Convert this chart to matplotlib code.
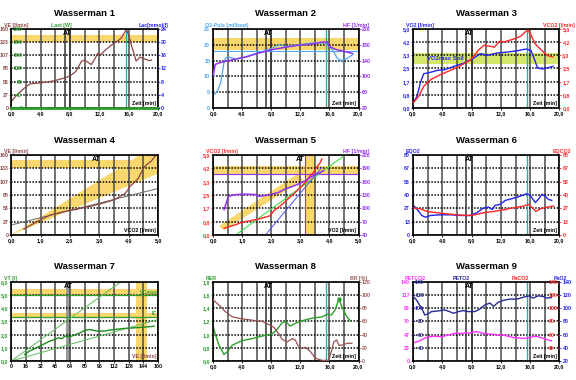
import matplotlib
matplotlib.use("Agg")
import matplotlib.pyplot as plt

plt.rcParams['font.family'] = ['Liberation Sans', 'DejaVu Sans']
plt.rcParams['font.weight'] = 'bold'

# ---- Daten ----
# Wasserman 1: VE ueber Zeit, Last
w1_t = [0, 0.5, 1.3, 2.0, 2.6, 3.3, 4.0, 4.7, 5.4, 6.1, 6.8, 7.5, 8.1, 8.8, 9.2, 9.6, 10.0,
        10.5, 10.9, 11.4, 11.8, 12.2, 12.7, 13.2, 13.7, 14.1, 14.6, 15.0, 15.4, 15.7, 16.1,
        16.4, 16.7, 17.0, 17.3, 17.5, 17.9, 18.4, 18.8, 19.1]
w1_ve = [13, 22, 34, 43, 49, 50, 51, 52, 54, 56, 59, 62, 66, 74, 85, 95, 97,
         92, 88, 100, 111, 108, 116, 122, 128, 132, 137, 142, 152, 159, 142,
         125, 111, 95, 100, 103, 101, 98, 96, 97]
w1_last_t = [0, 20]
w1_last = [0, 0]

# Wasserman 2: O2-Puls, HF
w2_t = [0, 0.3, 0.6, 1.05, 1.5, 1.7, 2.2, 3.1, 4.0, 5.4, 6.8, 8.2, 9.1, 10.0, 11.8, 13.7,
        15.0, 15.6, 16.0, 16.4, 16.7, 17.0, 17.3, 17.8, 18.5, 19.2]
w2_o2p = [4.2, 4.5, 5.3, 7.9, 14.2, 15.8, 16.1, 15.5, 15.8, 16.9, 17.9, 19.0, 20.0, 19.5,
          20.0, 20.6, 20.6, 20.3, 19.5, 18.5, 17.4, 16.0, 15.3, 15.1, 15.8, 16.9]
w2_hf_t = [0, 0.3, 0.8, 1.7, 3.1, 4.5, 6.3, 8.2, 10.0, 11.8, 13.7, 15.0, 15.7, 16.0, 16.9,
           18.3, 19.2]
w2_hf = [100, 130, 134, 138, 144, 149, 159, 168, 174, 179, 182, 187, 187, 176, 168, 162, 158]

# Wasserman 3: VO2, VCO2
w3_vo2_t = [0, 0.55, 1.0, 1.46, 2.4, 3.3, 4.4, 5.6, 7.0, 8.1, 9.2, 10.2, 11.5, 12.9, 14.3,
            15.4, 16.1, 16.6, 17.0, 17.7, 18.6, 19.1]
w3_vo2 = [0.32, 0.74, 1.58, 2.17, 2.26, 2.38, 2.43, 2.64, 2.85, 3.1, 3.44, 3.33, 3.48, 3.54,
          3.63, 3.73, 3.65, 3.06, 2.53, 2.47, 2.57, 2.64]
w3_vco2_t = [0, 0.78, 1.46, 2.4, 3.75, 5.1, 6.5, 7.9, 9.0, 9.7, 10.6, 11.1, 11.8, 12.4, 13.8,
             14.7, 15.4, 15.7, 16.1, 16.6, 17.0, 17.7, 18.4, 19.1]
w3_vco2 = [0.32, 0.74, 1.37, 1.79, 2.11, 2.38, 2.68, 3.06, 3.69, 3.97, 3.9, 3.84, 4.22, 4.18,
           4.37, 4.54, 4.85, 4.92, 4.64, 4.11, 3.9, 3.59, 3.31, 3.23]

# Wasserman 4: VE ueber VCO2
w4_vco2 = [0.43, 0.77, 1.05, 1.33, 1.6, 1.9, 2.2, 2.46, 2.75, 3.02, 3.25, 3.48, 3.7, 3.85,
           3.93, 4.04, 4.15, 4.32, 4.42, 4.49, 4.6, 4.77, 4.89, 4.94]
w4_ve = [12, 23, 32, 40, 44, 48, 51, 55, 58, 62, 66, 70, 77, 82, 87, 97, 103, 113, 124, 133,
         140, 148, 157, 160]
w4_fit_vco2 = [0, 5]
w4_fit_ve = [20, 93]
w4_cone_lo = 24.6
w4_cone_hi = 36.5

# Wasserman 5: VCO2 und HF ueber VO2
w5_vo2 = [0.38, 0.7, 1.0, 1.3, 1.58, 1.97, 2.09, 2.32, 2.6, 2.83, 3.06, 3.23, 3.34, 3.45,
          3.52, 3.69, 3.74]
w5_vco2 = [0.42, 0.6, 0.79, 0.9, 1.0, 1.21, 1.52, 1.83, 2.29, 2.67, 3.08, 3.4, 3.71, 3.9,
           4.13, 4.54, 4.75]
w5_hf_vo2 = [0.38, 0.53, 0.78, 1.12, 1.46, 1.58, 1.92, 2.26, 2.49, 2.72, 2.95, 3.17, 3.4,
             3.69, 3.8]
w5_hf = [97, 127, 131, 132, 131, 127, 130, 136, 144, 149, 155, 162, 172, 181, 185]
w5_green_vo2 = [0.78, 4.54]
w5_green_vco2 = [0.0, 5.0]
w5_blue_vo2 = [1.8, 3.74]
w5_blue_vco2 = [0.0, 4.23]

# Wasserman 6: EQO2, EQCO2
w6_o2_t = [0, 0.3, 0.8, 1.2, 1.7, 2.4, 3.7, 5.1, 6.5, 7.8, 8.7, 9.6, 10.3, 10.8, 11.2, 11.9,
           12.6, 13.5, 14.6, 15.5, 16.0, 16.7, 17.1, 17.6, 18.0, 18.5, 18.95]
w6_eqo2 = [29.6, 27.9, 23.5, 19.5, 17.8, 19.5, 20.2, 20.2, 19.5, 19.5, 22.2, 26.9, 27.9,
           25.5, 29.6, 30.6, 34.6, 36.3, 38.7, 41.3, 39.7, 32.3, 35.6, 40.7, 39.0, 35.6, 34.6]
w6_co2_t = [0, 1.0, 1.9, 3.3, 4.6, 6.0, 7.4, 8.5, 9.6, 11.0, 12.4, 13.7, 15.1, 15.8, 16.2,
            16.8, 17.4, 18.3, 19.2]
w6_eqco2 = [26.9, 26.2, 23.5, 22.2, 21.2, 20.2, 19.5, 20.2, 22.2, 23.5, 25.2, 27.2, 28.9,
            30.6, 27.9, 23.5, 26.2, 27.9, 28.9]

# Wasserman 7: VT ueber VE
w7_ve = [14.6, 20, 27.5, 34.8, 42, 47.6, 51.3, 55, 58.6, 64, 67.7, 75, 80.5, 86, 93.4,
         100.7, 111.7, 122.7, 133.7, 144.7, 155.7]
w7_vt = [0.5, 0.76, 1.0, 1.26, 1.51, 1.64, 1.76, 1.69, 1.89, 1.84, 1.94, 2.14, 2.34, 2.39,
         2.27, 2.27, 2.39, 2.47, 2.52, 2.57, 2.64]
w7_line1_ve = [0, 119]
w7_line1_vt = [0, 6.0]
w7_line2_ve = [0, 160]
w7_line2_vt = [0, 3.15]

# Wasserman 8: RER, BR
w8_t = [0, 0.37, 0.82, 1.5, 1.96, 2.65, 4.0, 5.4, 6.8, 8.1, 8.8, 9.5, 10.0, 10.6, 11.3,
        12.2, 13.6, 15.0, 15.7, 16.3, 16.8, 17.3, 17.7, 18.4, 18.9]
w8_rer = [1.13, 0.99, 0.84, 0.70, 0.74, 0.84, 0.91, 0.94, 0.98, 1.01, 1.08, 1.18, 1.2, 1.13,
          1.17, 1.21, 1.25, 1.27, 1.31, 1.3, 1.38, 1.54, 1.43, 1.27, 1.21]
w8_br_t = [0, 0.82, 1.7, 2.65, 4.0, 5.4, 6.8, 7.7, 8.4, 9.0, 9.5, 10.2, 10.9, 11.3, 11.8,
           12.2, 12.7, 13.4, 14.1, 15.0, 15.9, 16.3, 16.6, 17.0, 17.3, 17.7, 18.2, 18.6, 19.1]
w8_br = [93, 85, 75, 67, 64, 62, 60, 55, 51, 42, 33, 29, 34, 32, 21, 19, 21, 14, 4, 1, 1,
         16, 29, 32, 24, 24, 26, 27, 27]

# Wasserman 9: PETCO2, PETO2
w9_o2_t = [0, 0.46, 0.9, 1.3, 1.6, 2.05, 2.5, 3.4, 4.3, 5.0, 5.5, 6.2, 6.85, 7.5, 8.4, 9.1,
           9.8, 10.5, 11.0, 11.6, 12.3, 13.2, 14.2, 15.1, 15.8, 16.4, 17.1, 17.8, 18.3, 18.9]
w9_peto2 = [118, 113, 105, 97.6, 90, 91.5, 95, 96, 97.6, 95, 92.5, 95, 96.6, 95, 95, 98.6,
            105, 108, 103, 109, 112, 114, 114, 117, 119, 115.5, 119, 118, 115.5, 116.5]
w9_co2_t = [0, 0.9, 1.8, 2.7, 3.9, 4.8, 5.7, 6.8, 7.8, 8.7, 9.6, 11.0, 12.3, 13.7, 15.1,
            16.0, 16.7, 17.4, 18.3, 18.9]
w9_petco2 = [32, 35.7, 41.7, 44, 43, 46, 49, 49, 50, 52, 49, 47, 46, 41.7, 40, 41.7, 44,
             41.7, 38, 35.7]

at_lines = [7.3, 8.0]
t_max = 15.6

# ---- Farben ----
YEL = '#F9D76C'
TEAL = '#3AA6A0'
BROWN = '#8E4444'
GREEN = '#2E9B2E'
BLUE = '#2424F0'
LBLUE = '#4DA6EE'
PURPLE = '#9430F0'
RED = '#FF2626'
MAG = '#FF30FF'
NAVY = '#2A2A96'

fig = plt.figure(figsize=(5.76, 3.80), dpi=100)
cols = [(0.0195, 0.255), (0.3698, 0.2526), (0.717, 0.2543)]
rows = [(0.7158, 0.2079), (0.3816, 0.2105), (0.05, 0.2079)]

t_ticks = [0, 4, 8, 12, 16, 20]
t_labels = ['0,0', '4,0', '8,0', '12,0', '16,0', '20,0']
t_grid = list(range(0, 21, 2))
v_ticks = [0, 1, 2, 3, 4, 5]
v_labels = ['0,0', '1,0', '2,0', '3,0', '4,0', '5,0']
v_grid = [i * 0.5 for i in range(11)]
fs = 3.8


def make_ax(r, c, title):
    ax = fig.add_axes([cols[c][0], rows[r][0], cols[c][1], rows[r][1]])
    ax.set_title(title, fontsize=6.8, fontweight='bold', pad=9)
    for sp in ax.spines.values():
        sp.set_linewidth(1.2)
    return ax


def style(ax, xlim, xt, xtl, xgrid, ylim, yt, ytl, ycol):
    ax.set_xlim(*xlim)
    ax.set_ylim(*ylim)
    ax.set_xticks(xt, xtl)
    ax.set_xticks(xgrid, minor=True)
    ax.set_yticks(yt, ytl)
    ax.tick_params(axis='both', which='both', length=1.5, width=0.6, labelsize=fs, pad=0.6)
    ax.tick_params(axis='x', which='minor', length=0)
    ax.tick_params(axis='y', colors=ycol)
    ax.set_axisbelow(True)
    ax.grid(axis='x', which='both', color='#4a4a4a', lw=1.1)
    ax.grid(axis='y', which='major', color='black', ls=(0, (1, 1)), lw=1.1)


def twin(ax, ylim, yt, ytl, col, side='right', inner=False):
    a = ax.twinx()
    a.set_ylim(*ylim)
    a.set_yticks(yt, ytl)
    if side == 'left':
        a.yaxis.tick_left()
    a.tick_params(axis='y', labelsize=fs, colors=col, width=0.6,
                  length=1.5, pad=-8 if inner else 0.6, direction='in' if inner else 'out')
    for sp in a.spines.values():
        sp.set_visible(False)
    return a


def top_label(ax, x, s, col, ha):
    ax.text(x, 1.015, s, transform=ax.transAxes, fontsize=fs, color=col, ha=ha, va='bottom')


def corner_label(ax, s, col='black'):
    ax.text(0.985, 0.02, s, transform=ax.transAxes, fontsize=fs, color=col, ha='right', va='bottom')


def at_mark(ax, x, lines=True):
    if lines:
        for xv in at_lines:
            ax.axvline(xv, color='#333333', lw=1.1, zorder=0.6)
    ax.text(x, 0.99, 'AT', transform=ax.get_xaxis_transform(), fontsize=5, ha='center', va='top')


def time_panel(ax, ylim, yt, ytl, ycol):
    style(ax, (0, 20), t_ticks, t_labels, t_grid, ylim, yt, ytl, ycol)
    at_mark(ax, sum(at_lines) / 2)
    ax.axvline(t_max, color=TEAL, lw=1.0, zorder=0.7)
    corner_label(ax, 'Zeit [min]')


# ---- Wasserman 1 ----
ax = make_ax(0, 0, 'Wasserman 1')
time_panel(ax, (0, 160), [0, 26.67, 53.33, 80, 106.67, 133.33, 160],
           ['0', '27', '53', '80', '107', '133', '160'], BROWN)
ax.axhspan(134, 148, color=YEL, zorder=0.3, lw=0)
ax.plot(w1_t, w1_ve, color=BROWN, lw=0.9)
a_last = twin(ax, (0, 240), [0, 40, 80, 120, 160, 200, 240],
              ['0', '40', '80', '120', '160', '200', '240'], GREEN, side='left', inner=True)
a_last.plot(w1_last_t, w1_last, color=GREEN, lw=2.0, clip_on=False)
twin(ax, (0, 24), [0, 4, 8, 12, 16, 20, 24], ['0', '4', '8', '12', '16', '20', '24'], BLUE)
top_label(ax, -0.05, 'VE [l/min]', BROWN, 'left')
top_label(ax, 0.34, 'Last [W]', GREEN, 'center')
top_label(ax, 1.07, 'Lac[mmol/l]', BLUE, 'right')

# ---- Wasserman 2 ----
ax = make_ax(0, 1, 'Wasserman 2')
time_panel(ax, (0, 25), [0, 5, 10, 15, 20, 25], ['0', '5', '10', '15', '20', '25'], LBLUE)
ax.axhspan(18.2, 22.2, color=YEL, zorder=0.3, lw=0)
ax.axhline(17.9, color=LBLUE, lw=0.8, zorder=0.6)
ax.plot(w2_t, w2_o2p, color=LBLUE, lw=0.9)
a_hf = twin(ax, (20, 220), [20, 60, 100, 140, 180, 220],
            ['20', '60', '100', '140', '180', '220'], PURPLE)
a_hf.plot(w2_hf_t, w2_hf, color=PURPLE, lw=1.1)
top_label(ax, -0.055, 'O2-Puls [ml/beat]', LBLUE, 'left')
top_label(ax, 1.07, 'HF [1/min]', PURPLE, 'right')

# ---- Wasserman 3 ----
ax = make_ax(0, 2, 'Wasserman 3')
v6 = [0, 0.833, 1.667, 2.5, 3.333, 4.167, 5.0]
v6l = ['0,0', '0,8', '1,7', '2,5', '3,3', '4,2', '5,0']
time_panel(ax, (0, 5), v6, v6l, BLUE)
ax.axhspan(2.8, 3.45, color='#D5E66C', zorder=0.3, lw=0)
ax.text(1.9, 3.12, 'VO2max Soll', fontsize=4.3, color=BLUE, va='center')
ax.plot(w3_vo2_t, w3_vo2, color=BLUE, lw=1.0)
a_co2 = twin(ax, (0, 5), v6, v6l, RED)
a_co2.plot(w3_vco2_t, w3_vco2, color=RED, lw=1.0)
top_label(ax, -0.05, 'VO2 [l/min]', BLUE, 'left')
top_label(ax, 1.105, 'VCO2 [l/min]', RED, 'right')

# ---- Wasserman 4 ----
ax = make_ax(1, 0, 'Wasserman 4')
style(ax, (0, 5), v_ticks, v_labels, v_grid, (0, 160),
      [0, 26.67, 53.33, 80, 106.67, 133.33, 160],
      ['0', '27', '53', '80', '107', '133', '160'], BROWN)
ax.axhspan(135, 150, xmin=0, xmax=0.84, color=YEL, zorder=0.3, lw=0)
ax.fill([0, 5, 5, 160 / w4_cone_hi], [0, 5 * w4_cone_lo, 160, 160], color=YEL, zorder=0.3, lw=0)
ax.plot(w4_fit_vco2, w4_fit_ve, color='#666666', lw=0.7)
ax.plot(w4_vco2, w4_ve, color=BROWN, lw=0.9)
at_mark(ax, 2.9, lines=False)
corner_label(ax, 'VCO2 [l/min]')
top_label(ax, -0.05, 'VE [l/min]', BROWN, 'left')

# ---- Wasserman 5 ----
ax = make_ax(1, 1, 'Wasserman 5')
style(ax, (0, 5), v_ticks, v_labels, v_grid, (0, 5), v6, v6l, RED)
ax.axhspan(3.81, 4.29, color=YEL, zorder=0.3, lw=0)
ax.axvspan(3.17, 3.52, color=YEL, zorder=0.3, lw=0)
ax.fill([0.2, 0.38, 3.1, 2.92], [0.55, 0.3, 3.45, 3.85], color=YEL, zorder=0.3, lw=0)
ax.axvline(3.17, color=PURPLE, lw=0.8, zorder=0.6)
ax.axhline(3.81, color=PURPLE, lw=0.8, zorder=0.6)
ax.plot(w5_green_vo2, w5_green_vco2, color='#44DD44', lw=0.8)
ax.plot(w5_blue_vo2, w5_blue_vco2, color='#5555FF', lw=0.7)
ax.plot(w5_vo2, w5_vco2, color=RED, lw=1.0)
a_hf5 = twin(ax, (40, 220), [40, 70, 100, 130, 160, 190, 220],
             ['40', '70', '100', '130', '160', '190', '220'], PURPLE)
a_hf5.plot(w5_hf_vo2, w5_hf, color=PURPLE, lw=1.1)
at_mark(ax, 3.0, lines=False)
corner_label(ax, 'VO2 [l/min]')
top_label(ax, -0.05, 'VCO2 [l/min]', RED, 'left')
top_label(ax, 1.07, 'HF [1/min]', PURPLE, 'right')

# ---- Wasserman 6 ----
ax = make_ax(1, 2, 'Wasserman 6')
e6 = [0, 13.33, 26.67, 40, 53.33, 66.67, 80]
e6l = ['0', '13', '27', '40', '53', '67', '80']
time_panel(ax, (0, 80), e6, e6l, BLUE)
ax.plot(w6_o2_t, w6_eqo2, color=BLUE, lw=1.0)
a_eq = twin(ax, (0, 80), e6, e6l, RED)
a_eq.plot(w6_co2_t, w6_eqco2, color=RED, lw=1.0)
top_label(ax, -0.05, 'EQO2', BLUE, 'left')
top_label(ax, 1.08, 'EQCO2', RED, 'right')

# ---- Wasserman 7 ----
ax = make_ax(2, 0, 'Wasserman 7')
ve7 = list(range(0, 161, 16))
style(ax, (0, 160), ve7, [str(v) for v in ve7], ve7, (0, 6),
      [0, 1, 2, 3, 4, 5, 6], ['0,0', '1,0', '2,0', '3,0', '4,0', '5,0', '6,0'], GREEN)
ax.axhspan(4.99, 5.47, color=YEL, zorder=0.3, lw=0)
ax.axhspan(3.35, 3.65, color=YEL, zorder=0.3, lw=0)
ax.axvspan(135.5, 148, color=YEL, zorder=0.3, lw=0)
ax.axvspan(60, 64, color='#999999', zorder=0.4, lw=0)
ax.axhline(4.99, color=GREEN, lw=0.9, zorder=0.6)
ax.axhline(3.35, color=GREEN, lw=0.9, zorder=0.6)
ax.plot(w7_line1_ve, w7_line1_vt, color='#5DBB5D', lw=0.7)
ax.plot(w7_line2_ve, w7_line2_vt, color='#5DBB5D', lw=0.7)
ax.plot(w7_ve, w7_vt, color='#1E8C1E', lw=1.0)
ax.text(0.995, 5.05, 'VCmax', transform=ax.get_yaxis_transform(), fontsize=fs,
        color=GREEN, ha='right', va='bottom')
ax.text(0.995, 3.4, 'IC', transform=ax.get_yaxis_transform(), fontsize=fs,
        color=GREEN, ha='right', va='bottom')
at_mark(ax, 62, lines=False)
corner_label(ax, 'VE [l/min]', BROWN)
top_label(ax, -0.05, 'VT [l]', GREEN, 'left')

# ---- Wasserman 8 ----
ax = make_ax(2, 1, 'Wasserman 8')
time_panel(ax, (0.6, 1.8), [0.6, 0.8, 1.0, 1.2, 1.4, 1.6, 1.8],
           ['0,6', '0,8', '1,0', '1,2', '1,4', '1,6', '1,8'], GREEN)
ax.plot(w8_t, w8_rer, color='#2AA02A', lw=1.0)
ax.plot(w8_t[21], w8_rer[21], 'o', color='#2AA02A', ms=2.2)
a_br = twin(ax, (0, 120), [0, 20, 40, 60, 80, 100, 120],
            ['0', '20', '40', '60', '80', '100', '120'], '#A05A5A')
a_br.plot(w8_br_t, w8_br, color='#9A5050', lw=0.9)
top_label(ax, -0.05, 'RER', GREEN, 'left')
top_label(ax, 1.06, 'BR [%]', '#A05A5A', 'right')

# ---- Wasserman 9 ----
ax = make_ax(2, 2, 'Wasserman 9')
p6 = [0, 23.33, 46.67, 70, 93.33, 116.67, 140]
time_panel(ax, (0, 140), p6, ['0', '23', '47', '70', '93', '117', '140'], MAG)
p20 = [40, 60, 80, 100, 120, 140]
a_peto2 = twin(ax, (20, 140), p20, [str(v) for v in p20], NAVY, side='left', inner=True)
a_peto2.plot(w9_o2_t, w9_peto2, color=NAVY, lw=1.0)
twin(ax, (20, 140), p20, [str(v) for v in p20], RED, inner=True)
twin(ax, (20, 140), [20] + p20, [str(v) for v in [20] + p20], BLUE)
ax.plot(w9_co2_t, w9_petco2, color=MAG, lw=1.0)
top_label(ax, -0.06, 'PETCO2', MAG, 'left')
top_label(ax, 0.33, 'PETO2', NAVY, 'center')
top_label(ax, 0.73, 'PaCO2', RED, 'center')
top_label(ax, 1.05, 'PaO2', BLUE, 'right')

fig.savefig('out.png', dpi=100)
